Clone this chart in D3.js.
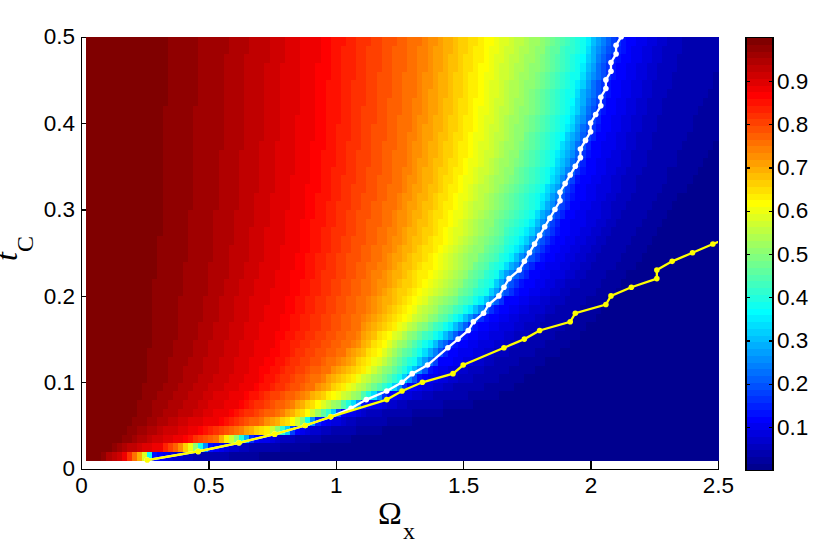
<!DOCTYPE html>
<html><head><meta charset="utf-8">
<style>html,body{margin:0;padding:0;background:#fff}svg{display:block}
.ax text{font-family:"Liberation Sans",Arial,sans-serif;font-size:22.5px;fill:#000}
.ax path,.ax line{stroke:#000;stroke-width:1.4;shape-rendering:crispEdges}
</style>
<script src="https://cdn.jsdelivr.net/npm/d3@7"></script></head><body>
<svg id="c" width="823" height="541"></svg>
<script>
const xTicks=[0,0.5,1,1.5,2,2.5];
const yTicks=[0,0.1,0.2,0.3,0.4,0.5];
const barTicks=[0.1,0.2,0.3,0.4,0.5,0.6,0.7,0.8,0.9];
const tGrid=[.01,.02,.03,.04,.05,.06,.07,.08,.09,.10,.11,.12,.13,.14,.15,.16,.17,.18,.19,.20,.21,.22,.23,.24,.25,.26,.27,.28,.29,.30,.31,.32,.33,.34,.35,.36,.37,.38,.39,.40,.41,.42,.43,.44,.45,.46,.47,.48,.49];

// Omega at which the map falls to each level, one entry per t row (t = .01 ... .49)
const levels=[.984,.953,.92,.875,.75,.625,.5,.375,.25,.125,.05,.0156];
const at984=[.08,.12,.16,.18,.20,.22,.22,.24,.24,.26,.26,.26,.26,.28,.28,.28,.28,.28,.28,.28,.28,.30,.30,.30,.30,.30,.32,.32,.32,.32,.32,.32,.32,.32,.32,.32,.32,.32,.32,.32,.32,.34,.34,.34,.34,.34,.34,.34,.34];
const at953=[.10,.15,.22,.26,.29,.32,.34,.36,.38,.39,.40,.42,.43,.44,.455,.46,.47,.475,.48,.49,.49,.50,.50,.51,.51,.51,.52,.52,.52,.53,.53,.53,.54,.54,.54,.54,.55,.55,.55,.55,.56,.56,.56,.56,.56,.56,.56,.58,.58];
const at920=[.135,.205,.27,.32,.375,.44,.455,.47,.50,.52,.53,.54,.55,.56,.57,.58,.59,.595,.60,.61,.62,.63,.64,.65,.655,.66,.66,.67,.67,.68,.68,.69,.69,.70,.70,.70,.70,.71,.71,.71,.72,.72,.72,.72,.72,.72,.73,.74,.74];
const at875=[.16,.30,.39,.455,.52,.56,.60,.625,.665,.69,.70,.715,.73,.74,.75,.76,.77,.78,.79,.80,.81,.82,.825,.83,.84,.845,.85,.855,.86,.865,.87,.875,.88,.885,.89,.89,.895,.90,.90,.905,.905,.91,.91,.91,.915,.915,.92,.92,.92];
const at750=[.205,.375,.52,.61,.705,.77,.81,.85,.90,.925,.96,.99,1.02,1.05,1.065,1.08,1.09,1.10,1.11,1.12,1.13,1.14,1.155,1.165,1.175,1.185,1.195,1.205,1.21,1.22,1.23,1.24,1.25,1.255,1.26,1.265,1.27,1.275,1.28,1.285,1.29,1.295,1.30,1.30,1.305,1.31,1.31,1.315,1.32];
const at625=[.235,.415,.565,.72,.82,.875,.915,.975,1.025,1.06,1.10,1.13,1.15,1.17,1.19,1.22,1.25,1.27,1.29,1.31,1.33,1.345,1.36,1.375,1.39,1.405,1.415,1.425,1.435,1.445,1.455,1.465,1.475,1.48,1.49,1.50,1.505,1.51,1.52,1.525,1.53,1.535,1.54,1.545,1.55,1.555,1.56,1.57,1.575];
const at500=[.25,.44,.60,.76,.86,.93,1.0,1.08,1.13,1.16,1.19,1.21,1.235,1.26,1.29,1.33,1.37,1.40,1.43,1.46,1.48,1.50,1.52,1.54,1.56,1.575,1.59,1.60,1.615,1.63,1.64,1.65,1.665,1.68,1.69,1.70,1.71,1.72,1.725,1.73,1.74,1.75,1.755,1.76,1.77,1.78,1.79,1.80,1.81];
const at375=[.26,.46,.625,.79,.88,.97,1.05,1.13,1.20,1.24,1.27,1.30,1.325,1.35,1.39,1.43,1.47,1.51,1.55,1.58,1.60,1.62,1.645,1.67,1.69,1.71,1.73,1.745,1.76,1.78,1.79,1.80,1.82,1.83,1.84,1.85,1.86,1.875,1.89,1.90,1.91,1.915,1.92,1.93,1.94,1.95,1.955,1.96,1.97];
const at250=[.27,.48,.645,.81,.90,.99,1.08,1.16,1.24,1.28,1.32,1.35,1.375,1.40,1.44,1.48,1.52,1.56,1.60,1.63,1.65,1.67,1.70,1.725,1.75,1.77,1.79,1.805,1.82,1.84,1.855,1.87,1.885,1.90,1.91,1.92,1.93,1.94,1.95,1.96,1.97,1.975,1.98,1.99,2.0,2.01,2.015,2.02,2.03];
const at125=[.28,.50,.665,.83,.925,1.01,1.10,1.19,1.27,1.32,1.36,1.40,1.43,1.46,1.50,1.54,1.58,1.62,1.66,1.70,1.725,1.75,1.775,1.80,1.82,1.84,1.86,1.875,1.89,1.91,1.92,1.93,1.945,1.96,1.97,1.98,1.995,2.01,2.02,2.03,2.04,2.05,2.06,2.065,2.08,2.09,2.10,2.12,2.13];
const at050=[.40,.62,.80,.94,1.05,1.14,1.25,1.35,1.43,1.50,1.55,1.60,1.65,1.69,1.73,1.77,1.80,1.84,1.87,1.90,1.93,1.96,1.98,2.00,2.02,2.04,2.06,2.08,2.10,2.11,2.13,2.14,2.15,2.16,2.18,2.19,2.20,2.21,2.22,2.23,2.24,2.25,2.26,2.27,2.28,2.29,2.30,2.31,2.32];
const at016=[.70,.90,1.05,1.18,1.30,1.42,1.54,1.64,1.70,1.74,1.78,1.82,1.87,1.92,1.95,1.98,2.01,2.04,2.06,2.09,2.11,2.14,2.17,2.19,2.21,2.23,2.26,2.28,2.30,2.32,2.34,2.37,2.39,2.41,2.44,2.46,2.48,2.50,2.52,2.54,2.56,2.58,2.60,2.62,2.64,2.66,2.68,2.70,2.72];
const contours=[at984,at953,at920,at875,at750,at625,at500,at375,at250,at125,at050,at016];

// marked curves
const whiteT=[.01,.02,.03,.04,.05,.06,.07,.08,.09,.10,.11,.12,.14,.15,.16,.17,.18,.19,.20,.21,.22,.23,.24,.25,.26,.27,.28,.29,.30,.31,.32,.33,.34,.35,.36,.37,.38,.39,.40,.41,.42,.43,.44,.45,.46,.47,.48,.49,.50];
const whiteOmega=[.26,.46,.62,.76,.88,.98,1.06,1.12,1.20,1.26,1.30,1.36,1.44,1.48,1.52,1.54,1.58,1.60,1.64,1.66,1.68,1.72,1.74,1.76,1.78,1.80,1.82,1.84,1.86,1.88,1.88,1.90,1.92,1.94,1.96,1.96,1.98,2.0,2.0,2.02,2.04,2.04,2.06,2.06,2.08,2.08,2.10,2.10,2.12];
const yellowT=[.01,.02,.03,.04,.05,.06,.08,.09,.10,.11,.12,.14,.15,.16,.17,.18,.19,.20,.21,.22,.23,.24,.25,.26,.27];
const yellowOmega=[.26,.46,.62,.76,.88,.98,1.20,1.26,1.34,1.46,1.50,1.66,1.74,1.80,1.92,1.94,2.06,2.08,2.16,2.26,2.26,2.32,2.40,2.48,2.56];

const colorStops=["#00008f","#0000ff","#00ffff","#ffff00","#ff0000","#800000"];
const colorIndex=[0,7,23,39,55,63];

const svg=d3.select("#c");
const x=d3.scaleLinear().domain([0,2.5]).range([81,718]);
const y=d3.scaleLinear().domain([0,0.5]).range([468.7,36.7]);
const jet=d3.scaleLinear().domain(colorIndex).range(colorStops);
const colorOf=v=>jet(Math.max(0,Math.min(63,Math.floor(v*64))));

// axes first: the map covers the inner part of their ticks
const xAxis=d3.axisBottom(x).tickValues(xTicks).tickFormat(d3.format("~g")).tickSizeInner(-8).tickSizeOuter(0).tickPadding(8.5);
const yAxis=d3.axisLeft(y).tickValues(yTicks).tickFormat(d3.format("~g")).tickSizeInner(-8).tickSizeOuter(0).tickPadding(6);
svg.append("g").attr("class","ax").attr("transform","translate(0,468.7)").call(xAxis);
svg.append("g").attr("class","ax").attr("transform","translate(81,0)").call(yAxis);

// heat map: each cell spans [omega,omega+.02] x [t,t+.01]
const omegaCols=d3.range(1,125).map(i=>i*0.02);
const cells=[];
tGrid.forEach((t,r)=>{
  const dom=[0].concat(contours.map(c=>c[r]));
  dom.push(dom[dom.length-1]+0.02);
  const val=d3.scaleLinear().domain(dom).range([1].concat(levels,[0])).clamp(true);
  omegaCols.forEach(o=>cells.push({t,o,v:val(o)}));
});
svg.append("g").attr("shape-rendering","crispEdges").selectAll("rect").data(cells).join("rect")
  .attr("x",d=>x(d.o)).attr("width",d=>x(d.o+0.02)-x(d.o)+0.5)
  .attr("y",d=>y(d.t+0.01)).attr("height",d=>y(d.t)-y(d.t+0.01)+0.5)
  .attr("fill",d=>colorOf(d.v));

// curves
svg.append("clipPath").attr("id","plot").append("rect")
  .attr("x",81).attr("y",30).attr("width",637).attr("height",440);
const g=svg.append("g").attr("clip-path","url(#plot)");
function curve(ts,os,col){
  const pts=ts.map((t,i)=>[os[i],t]);
  g.append("path").datum(pts).attr("fill","none").attr("stroke",col).attr("stroke-width",2.3)
   .attr("d",d3.line().x(d=>x(d[0])).y(d=>y(d[1])));
  g.append("g").selectAll("circle").data(pts).join("circle")
   .attr("cx",d=>x(d[0])).attr("cy",d=>y(d[1])).attr("r",2.8).attr("fill",col);
}
curve(whiteT,whiteOmega,"#ffffff");
curve(yellowT,yellowOmega,"#ffff00");

// colour bar
const barY=d3.scaleLinear().domain([0,1]).range([470.2,37.7]);
const bands=d3.range(64);
svg.append("g").attr("shape-rendering","crispEdges").selectAll("rect").data(bands).join("rect")
  .attr("x",746).attr("width",27)
  .attr("y",i=>barY((i+1)/64)).attr("height",i=>barY(i/64)-barY((i+1)/64)+0.5)
  .attr("fill",i=>jet(i));
svg.append("rect").attr("x",746).attr("y",37.7).attr("width",27).attr("height",432.5)
  .attr("fill","none").attr("stroke","#000").attr("stroke-width",1.4).attr("shape-rendering","crispEdges");
const barAxis=d3.axisRight(barY).tickValues(barTicks).tickFormat(d3.format("~g")).tickSizeInner(-4).tickSizeOuter(0).tickPadding(4);
const ba=svg.append("g").attr("class","ax").attr("transform","translate(773,0)").call(barAxis);
ba.select(".domain").remove();
svg.append("g").attr("class","ax").attr("transform","translate(746,0)")
  .call(d3.axisRight(barY).tickValues(barTicks).tickFormat("").tickSizeInner(4).tickSizeOuter(0))
  .select(".domain").remove();

// axis titles
const serif='"Liberation Serif","Times New Roman",serif';
svg.append("text").attr("x",378).attr("y",524).attr("font-family",serif).attr("font-size",32).text("Ω");
svg.append("text").attr("x",403).attr("y",539).attr("font-family",serif).attr("font-size",24).text("x");
svg.append("text").attr("transform","translate(17,261) rotate(-90)").attr("font-family",serif).attr("font-size",32).attr("font-style","italic").text("t");
svg.append("text").attr("transform","translate(33,252) rotate(-90)").attr("font-family",serif).attr("font-size",24).text("C");
</script></body></html>
